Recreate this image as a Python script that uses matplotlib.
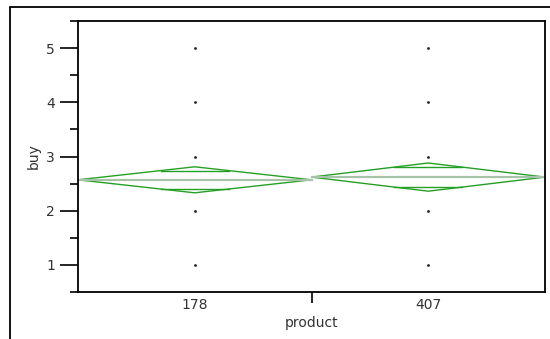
import numpy as np
import matplotlib.pyplot as plt
from matplotlib.patches import Polygon, Rectangle

# categorias e valores
produtos = ["178", "407"]
niveis_buy = [1, 2, 3, 4, 5]
medias = [2.57, 2.62]
meia_ic = [0.24, 0.26]

verde = "#25a025"
verde_media = "#a8c4a8"

fig = plt.figure(figsize=(5.5, 3.39), dpi=100)
ax = fig.add_axes([78 / 550, 47 / 339, 467 / 550, 271 / 339])

# moldura externa
fig.patches.append(Rectangle((10 / 550, -0.1), 1.2, (332 / 339) + 0.1,
                             transform=fig.transFigure, fill=False,
                             edgecolor="black", linewidth=1.3))

for i, prod in enumerate(produtos):
    x0, x1 = i, i + 1
    xc = i + 0.5
    m, h = medias[i], meia_ic[i]
    # pontos de dados
    ax.plot([xc] * len(niveis_buy), niveis_buy, "o", color="#222222",
            markersize=2.0, markeredgewidth=0)
    # losango da média
    ax.add_patch(Polygon([(x0, m), (xc, m + h), (x1, m), (xc, m - h)],
                         closed=True, fill=False, edgecolor=verde,
                         linewidth=1.0))
    ax.plot([x0, x1], [m, m], color=verde_media, linewidth=1.6, zorder=1)
    # marcas de sobreposição
    d = h / np.sqrt(2)
    w = 0.5 * (1 - 1 / np.sqrt(2))
    for s in (1, -1):
        ax.plot([xc - w, xc + w], [m + s * d, m + s * d], color=verde,
                linewidth=1.0)

ax.set_xlim(0, 2)
ax.set_ylim(0.5, 5.5)

ax.set_yticks(niveis_buy)
ax.set_yticks(np.arange(0.5, 6.0, 1.0), minor=True)
ax.tick_params(axis="y", which="major", length=13, width=1.2, labelsize=10,
               labelcolor="#333333")
ax.tick_params(axis="y", which="minor", length=6, width=1.2)

ax.set_xticks([1])
ax.set_xticklabels([""])
ax.set_xticks([0.5, 1.5], minor=True)
ax.set_xticklabels(produtos, minor=True)
ax.tick_params(axis="x", which="major", length=8, width=1.2)
ax.tick_params(axis="x", which="minor", length=0, labelsize=10, pad=4,
               labelcolor="#333333")

for sp in ax.spines.values():
    sp.set_linewidth(1.3)

ax.set_ylabel("buy", fontsize=10, labelpad=4, color="#333333")
ax.set_xlabel("product", fontsize=10, labelpad=3, color="#333333")

fig.savefig("out.png", dpi=100)
